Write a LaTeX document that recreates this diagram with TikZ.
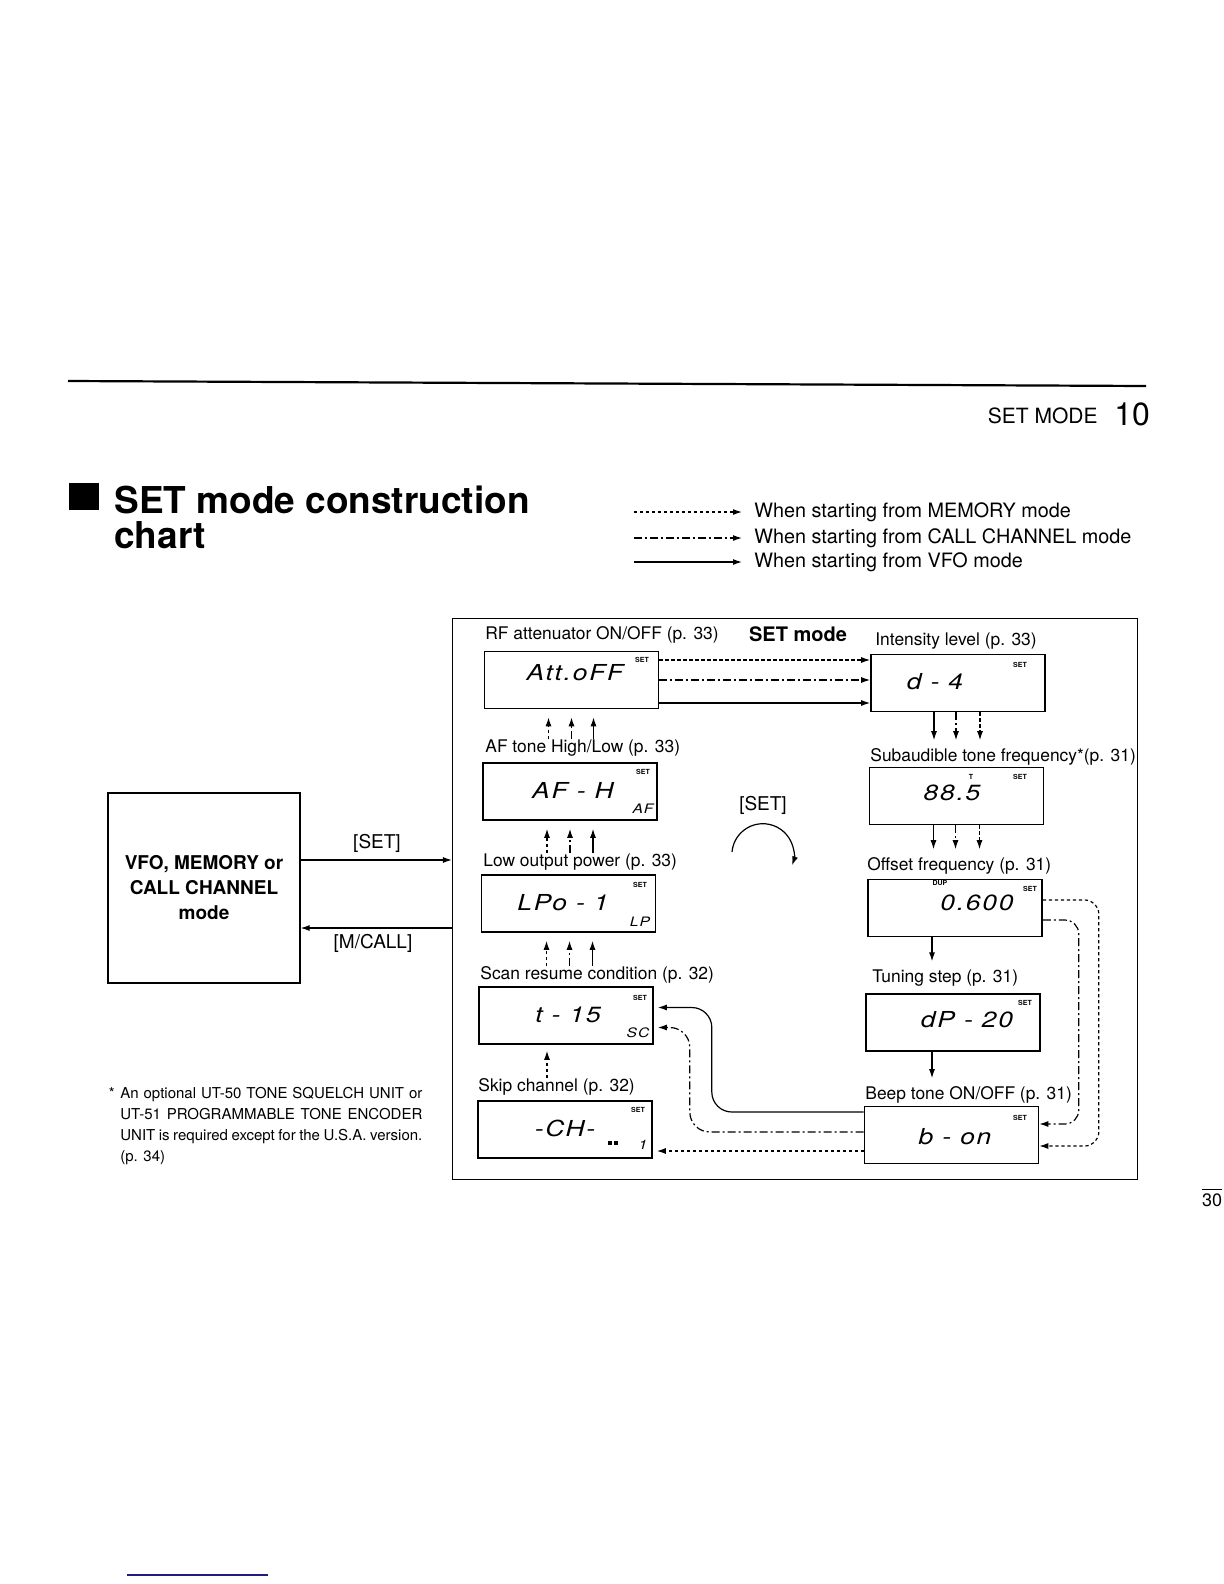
\documentclass[tikz,border=0pt]{standalone}
\usepackage{fontspec}
\setmainfont{TeX Gyre Heros}
\newfontfamily\lcdfont[FakeStretch=1.2,LetterSpace=8]{TeX Gyre Heros}
\usepackage{tikz}
\usetikzlibrary{arrows.meta,positioning,calc}
\definecolor{rulenavy}{RGB}{30,30,130}

\begin{document}
\begin{tikzpicture}[x=0.5pt, y=-0.5pt,
  link/.style={line width=0.6pt, -{Latex[length=4.5pt,width=3pt]}},
  memory/.style={link, dash pattern=on 1.6pt off 1.4pt},
  callch/.style={link, dash pattern=on 4pt off 1.5pt on 1pt off 1.5pt},
  vfo/.style={link},
  lcd/.style={draw, line width=0.8pt, minimum width=87pt, minimum height=28.5pt, inner sep=0pt},
  lbl/.style={anchor=west, inner sep=0pt, font=\fontsize{8.7}{10}\selectfont},
  seg/.style={inner sep=0pt, font=\lcdfont\itshape\fontsize{11}{11}\selectfont},
  mini/.style={inner sep=0pt, font=\lcdfont\itshape\fontsize{6.5}{7}\selectfont},
  tag/.style={inner sep=0pt, font=\bfseries\fontsize{3.5}{4}\selectfont},
  key/.style={inner sep=0pt, font=\fontsize{9.5}{11}\selectfont}]
  \useasboundingbox (0,0) rectangle (1224,1584);
  % Page head
  \draw[line width=1.1pt] (68,381) -- (1146,386);
  \node[anchor=base east, inner sep=0pt, font=\fontsize{10.5}{12}\selectfont] (head) at (1098,423) {SET MODE};
  \node[anchor=base west, inner sep=0pt, font=\fontsize{16}{18}\selectfont] (chap) at (1114,425) {10};
  % Title
  \fill (69,483) rectangle (99,510);
  \node[anchor=base west, inner sep=0pt, font=\bfseries\fontsize{18.5}{21}\selectfont] (title) at (114,513) {SET mode construction};
  \node[anchor=base west, inner sep=0pt, font=\bfseries\fontsize{18.5}{21}\selectfont] (title2) at (114,548) {chart};
  % Legend
  \node[anchor=west, inner sep=0pt, font=\fontsize{9.9}{11}\selectfont] (leg1) at (754,512) {When starting from MEMORY mode};
  \node[anchor=west, inner sep=0pt, font=\fontsize{9.9}{11}\selectfont] (leg2) at (754,538) {When starting from CALL CHANNEL mode};
  \node[anchor=west, inner sep=0pt, font=\fontsize{9.9}{11}\selectfont] (leg3) at (754,562) {When starting from VFO mode};
  \draw[memory] ([xshift=-60pt]leg1.west) -- ([xshift=-6pt]leg1.west);
  \draw[callch] ([xshift=-60pt]leg2.west) -- ([xshift=-6pt]leg2.west);
  \draw[vfo] ([xshift=-60pt]leg3.west) -- ([xshift=-6pt]leg3.west);
  % Mode box and SET mode frame
  \node[draw, line width=0.6pt, minimum width=96pt, minimum height=95pt, align=center, font=\bfseries\fontsize{9.5}{12.5}\selectfont] (vfobox) at (204,888) {VFO, MEMORY or\\CALL CHANNEL\\mode};
  \node[draw, line width=0.6pt, minimum width=342.5pt, minimum height=280.5pt, inner sep=0pt] (frame) at (795,899) {};
  \draw[vfo] ([yshift=14pt]vfobox.east) -- ([yshift=14pt]vfobox.east -| frame.west);
  \draw[vfo] ([yshift=-20pt]vfobox.east -| frame.west) -- ([yshift=-20pt]vfobox.east);
  \node[key] (setkey) at (377,843) {[SET]};
  \node[key] (mcallkey) at (373,943) {[M/CALL]};
  \node[inner sep=0pt, font=\bfseries\fontsize{10}{12}\selectfont] (setmode) at (798,634) {SET mode};
  % Loop key
  \node[key] (setloop) at (763,805) {[SET]};
  \draw[link] ([xshift=-15.5pt,yshift=-23.5pt]setloop.center) arc[start angle=175, end angle=-20, radius=15.5pt];
  % Left column
  \node[lbl] (attl) at (485,635) {RF attenuator ON/OFF (p. 33)};
  \node[lcd] (att) at (571.5,680) {};
  \node[seg] at (575,673) {Att.oFF};
  \node[tag] at (642,660) {SET};
  \node[lbl] (afl) at (485,748) {AF tone High/Low (p. 33)};
  \node[lcd] (af) at (570,791.5) {};
  \node[seg] at (573,790) {AF - H};
  \node[tag] at (643,772) {SET};
  \node[mini] at (643,809) {AF};
  \node[lbl] (lpol) at (483,862) {Low output power (p. 33)};
  \node[lcd] (lpo) at (568.5,903.5) {};
  \node[seg] at (563,903) {LPo - 1};
  \node[tag] at (640,885) {SET};
  \node[mini] at (640,922) {LP};
  \node[lbl] (scanl) at (480,975) {Scan resume condition (p. 32)};
  \node[lcd] (scan) at (566,1015.5) {};
  \node[seg] at (568,1015) {t - 15};
  \node[tag] at (640,998) {SET};
  \node[mini] at (638,1033) {SC};
  \node[lbl] (skipl) at (478,1087) {Skip channel (p. 32)};
  \node[lcd] (skip) at (565,1129.5) {};
  \node[seg] at (565,1128) {-CH-};
  \node[tag] at (638,1110) {SET};
  \node[inner sep=0pt] (memicon) at (613,1143) {\rule{2pt}{2pt}\hspace{0.6pt}\rule{2pt}{2pt}};
  \node[mini] at (643,1145) {1};
  % Right column
  \node[lbl] (intl) at (875,641) {Intensity level (p. 33)};
  \node[lcd] (ints) at (958,683) {};
  \node[seg] at (935,682) {d - 4};
  \node[tag] at (1020,665) {SET};
  \node[lbl] (subl) at (870,757) {Subaudible tone frequency*(p. 31)};
  \node[lcd] (subt) at (956.5,796) {};
  \node[seg] at (952,793) {88.5};
  \node[tag] at (971,777) {T};
  \node[tag] at (1020,777) {SET};
  \node[lbl] (offl) at (867,866) {Offset frequency (p. 31)};
  \node[lcd] (offs) at (955,908) {};
  \node[seg] at (977,903) {0.600};
  \node[tag] at (940,883) {DUP};
  \node[tag] at (1030,889) {SET};
  \node[lbl] (stepl) at (872,978) {Tuning step (p. 31)};
  \node[lcd] (step) at (953,1022.5) {};
  \node[seg] at (967,1020) {dP - 20};
  \node[tag] at (1025,1003) {SET};
  \node[lbl] (beepl) at (865,1095) {Beep tone ON/OFF (p. 31)};
  \node[lcd] (beep) at (951.5,1135) {};
  \node[seg] at (955,1137) {b - on};
  \node[tag] at (1020,1118) {SET};
  % RF attenuator to intensity level
  \draw[memory] ([yshift=10pt]att.east) -- ([yshift=10pt]att.east -| ints.west);
  \draw[callch] (att.east) -- (att.east -| ints.west);
  \draw[vfo] ([yshift=-11.5pt]att.east) -- ([yshift=-11.5pt]att.east -| ints.west);
  % Upward steps, left column
  \draw[memory, shorten >=4pt] ([xshift=-11.5pt]att.south |- afl.north) -- ([xshift=-11.5pt]att.south);
  \draw[callch, shorten >=4pt] (att.south |- afl.north) -- (att.south);
  \draw[vfo, shorten >=4pt] ([xshift=11pt]att.south |- afl.north) -- ([xshift=11pt]att.south);
  \draw[memory, shorten >=4pt] ([xshift=-11.5pt]af.south |- lpol.north) -- ([xshift=-11.5pt]af.south);
  \draw[callch, shorten >=4pt] (af.south |- lpol.north) -- (af.south);
  \draw[vfo, shorten >=4pt] ([xshift=11.5pt]af.south |- lpol.north) -- ([xshift=11.5pt]af.south);
  \draw[memory, shorten >=4pt] ([xshift=-11pt]lpo.south |- scanl.north) -- ([xshift=-11pt]lpo.south);
  \draw[callch, shorten >=4pt] ([xshift=0.5pt]lpo.south |- scanl.north) -- ([xshift=0.5pt]lpo.south);
  \draw[vfo, shorten >=4pt] ([xshift=12pt]lpo.south |- scanl.north) -- ([xshift=12pt]lpo.south);
  \draw[memory, shorten >=3pt] ([xshift=-9.5pt]scan.south |- skipl.north) -- ([xshift=-9.5pt]scan.south);
  % Downward steps, right column
  \draw[vfo, shorten >=4pt] ([xshift=-12pt]ints.south) -- ([xshift=-12pt]ints.south |- subl.north);
  \draw[callch, shorten >=4pt] ([xshift=-1pt]ints.south) -- ([xshift=-1pt]ints.south |- subl.north);
  \draw[memory, shorten >=4pt] ([xshift=11pt]ints.south) -- ([xshift=11pt]ints.south |- subl.north);
  \draw[vfo, shorten >=4pt] ([xshift=-11.5pt]subt.south) -- ([xshift=-11.5pt]subt.south |- offl.north);
  \draw[callch, shorten >=4pt] ([xshift=-0.5pt]subt.south) -- ([xshift=-0.5pt]subt.south |- offl.north);
  \draw[memory, shorten >=4pt] ([xshift=11.5pt]subt.south) -- ([xshift=11.5pt]subt.south |- offl.north);
  \draw[vfo, shorten >=4pt] ([xshift=-11.5pt]offs.south) -- ([xshift=-11.5pt]offs.south |- stepl.north);
  \draw[vfo, shorten >=4pt] ([xshift=-10.5pt]step.south) -- ([xshift=-10.5pt]step.south |- beepl.north);
  % Offset frequency to beep tone
  \draw[memory, rounded corners=7pt] ([yshift=4pt]offs.east) -- ++(28pt,0) |- ([yshift=-5.5pt]beep.east);
  \draw[callch, rounded corners=7pt] ([yshift=-6pt]offs.east) -- ++(18pt,0) |- ([yshift=5.5pt]beep.east);
  % Beep tone back to left column
  \draw[vfo, rounded corners=10pt, shorten >=2pt] ([yshift=11.5pt]beep.west) -| ([xshift=29pt,yshift=4pt]scan.east) -- ([yshift=4pt]scan.east);
  \draw[callch, rounded corners=10pt, shorten >=2pt] ([yshift=1.5pt]beep.west) -| ([xshift=18pt,yshift=-6pt]scan.east) -- ([yshift=-6pt]scan.east);
  \draw[memory, shorten >=2pt] ([yshift=-8pt]beep.west) -- ([yshift=-8pt]beep.west -| skip.east);
  % Footnote
  \node[anchor=north west, inner sep=0pt, text width=151pt, align=justify, font=\fontsize{7.5}{10.5}\selectfont] (note) at (120,1087) {An optional UT-50 TONE SQUELCH UNIT or\linebreak UT-51 PROGRAMMABLE TONE ENCODER\linebreak UNIT is required except for the U.S.A. version.\linebreak (p. 34)};
  \node[anchor=north east, inner sep=0pt, font=\fontsize{7.5}{9}\selectfont] (star) at ([xshift=-2.5pt]note.north west) {*};
  % Page foot
  \node[inner sep=0pt, font=\fontsize{9}{10}\selectfont] (pgno) at (1212,1200) {30};
  \draw[line width=0.4pt] ([yshift=2pt]pgno.north west) -- ([yshift=2pt]pgno.north east);
  \draw[rulenavy, line width=1pt] (127,1575) -- (268,1575);
\end{tikzpicture}
\end{document}
